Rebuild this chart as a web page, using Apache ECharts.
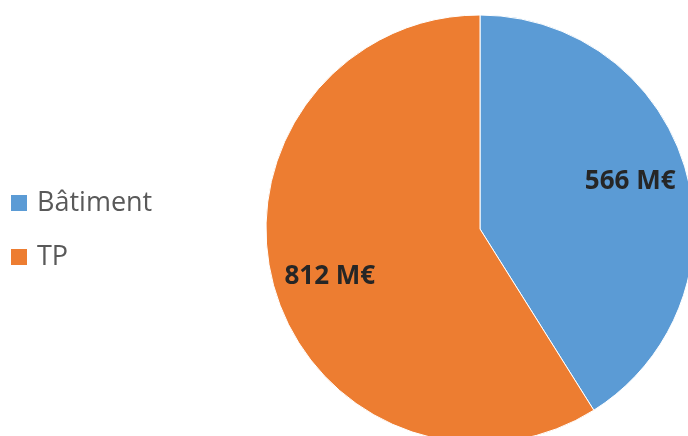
<!DOCTYPE html>
<html><head><meta charset="utf-8">
<script src="https://cdn.jsdelivr.net/npm/echarts@6/dist/echarts.min.js"></script>
<style>html,body{margin:0;padding:0;background:#fff}#c{width:688px;height:436px}</style>
</head><body><div id="c"></div>
<script>
const categories = ['Bâtiment', 'TP'];
const values = [566, 812];
const colors = ['#5B9BD5', '#ED7D31'];

const data = categories.map((n, i) => ({ name: n, value: values[i], itemStyle: { color: colors[i] } }));
const chart = echarts.init(document.getElementById('c'));
chart.setOption({
  animation: false,
  legend: {
    orient: 'vertical', left: 9, top: 189, padding: 0, itemWidth: 18, itemHeight: 18, itemGap: 26,
    icon: 'rect', data: categories,
    textStyle: { fontFamily: 'Open Sans', fontSize: 27, color: '#595959', lineHeight: 28, padding: [0,0,0,4] }
  },
  series: [{
    type: 'pie', center: [480, 229], radius: 214, startAngle: 90, clockwise: true,
    data: data, label: { show: false }, labelLine: { show: false },
    itemStyle: { borderColor: '#fff', borderWidth: 1 }, silent: true
  }, {
    type: 'pie', center: [480, 229], radius: [95, 214], startAngle: 91.5, clockwise: true,
    data: categories.map((n, i) => ({ name: n, value: values[i] })),
    itemStyle: { color: 'rgba(0,0,0,0)' }, silent: true, legendHoverLink: false,
    label: { show: true, position: 'inside', formatter: p => p.value + ' M€',
      fontFamily: 'Open Sans', fontWeight: 'bold', fontSize: 26, color: '#262626' },
    labelLine: { show: false }
  }]
});
</script></body></html>
